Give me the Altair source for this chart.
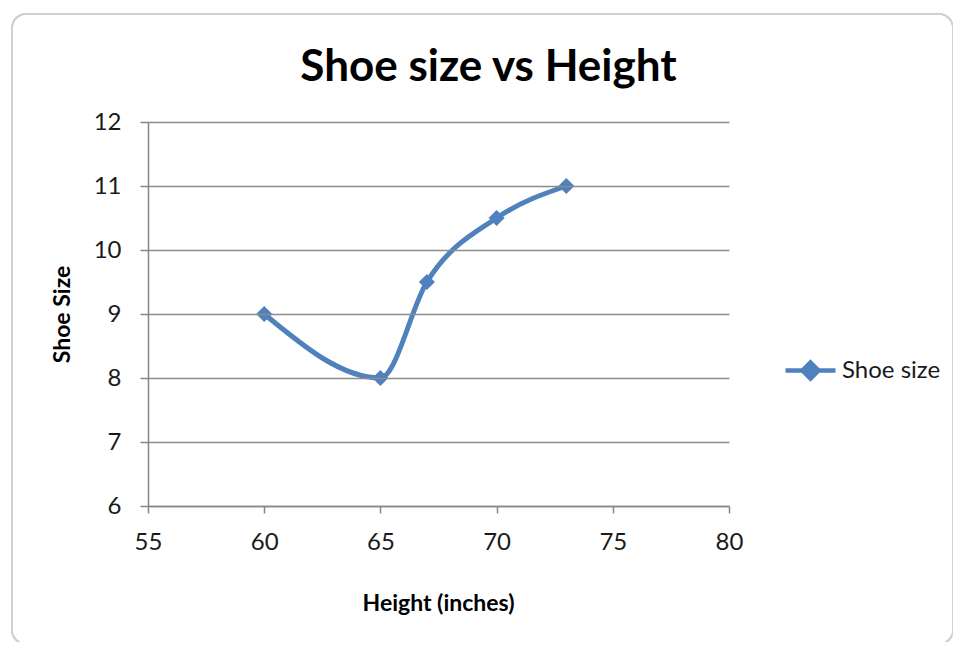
import altair as alt
import pandas as pd

heights = [60, 65, 67, 70, 73]
shoe_sizes = [9, 8, 9.5, 10.5, 11]
series_name = "Shoe size"

df = pd.DataFrame({"Height": heights, "Shoe": shoe_sizes, "series": [series_name] * len(heights)})

BLUE = "#4F81BD"
FONT = "Lato, sans-serif"

legend_path = "M-1,0L1,0M0,-0.32L0.32,0L0,0.32L-0.32,0Z"

x = alt.X("Height:Q", scale=alt.Scale(domain=[55, 80], nice=False, zero=False),
          axis=alt.Axis(values=[55, 60, 65, 70, 75, 80], title="Height (inches)",
                        format="d", grid=False, tickSize=7, labelPadding=17, zindex=2,
                        labelFlush=False,
                        titleX=290, titleY=104, titleBaseline="alphabetic"))
y = alt.Y("Shoe:Q", scale=alt.Scale(domain=[6, 12], nice=False, zero=False),
          axis=alt.Axis(values=[6, 7, 8, 9, 10, 11, 12], title="Shoe Size",
                        format="d", tickSize=8, labelPadding=19, zindex=1,
                        labelFlush=False,
                        titleX=-86, titleY=192, titleAngle=-90,
                        titleAlign="center", titleBaseline="middle"))
color = alt.Color("series:N", scale=alt.Scale(range=[BLUE]),
                  legend=alt.Legend(title=None, orient="none", legendX=635, legendY=221,
                                    symbolType=legend_path, symbolSize=2500,
                                    symbolStrokeWidth=4.5, symbolStrokeColor=BLUE,
                                    symbolFillColor=BLUE, labelFontSize=24,
                                    labelFont=FONT, labelColor="#1a1a1a",
                                    labelOffset=4))

frame = alt.Chart(df).mark_rect(fillOpacity=0, stroke="#d0d0d0", strokeWidth=1.5,
                                cornerRadius=14).encode(
    x=alt.value(-136), x2=alt.value(805), y=alt.value(-108), y2=alt.value(522)
)

line = alt.Chart(df).mark_line(interpolate="monotone", strokeWidth=5).encode(
    x=x, y=y, color=color)
pts = alt.Chart(df).mark_point(shape="diamond", filled=True, size=260, opacity=1).encode(
    x="Height:Q", y="Shoe:Q", color=alt.Color("series:N", legend=None))

chart = alt.layer(frame, line, pts).properties(
    width=581, height=384,
    background="white",
    autosize=alt.AutoSizeParams(type="none"),
    padding={"left": 140, "top": 114, "right": 224, "bottom": 136},
    title=alt.TitleParams("Shoe size vs Height", frame="group", anchor="middle",
                          offset=44, baseline="alphabetic", dx=50, dy=156,
                          font=FONT, fontSize=44, fontWeight="bold", color="#000000"),
).configure_view(stroke=None).configure_axis(
    labelFont=FONT, labelFontSize=24, labelColor="#1a1a1a",
    titleFont=FONT, titleFontSize=23, titleFontWeight="bold", titleColor="#000000",
    domainColor="#868686", tickColor="#868686", gridColor="#8c8c8c",
    domainWidth=1.5, tickWidth=1.5, gridWidth=1.5,
)

chart.save("out.html", embed_options={"renderer": "svg", "actions": False})
